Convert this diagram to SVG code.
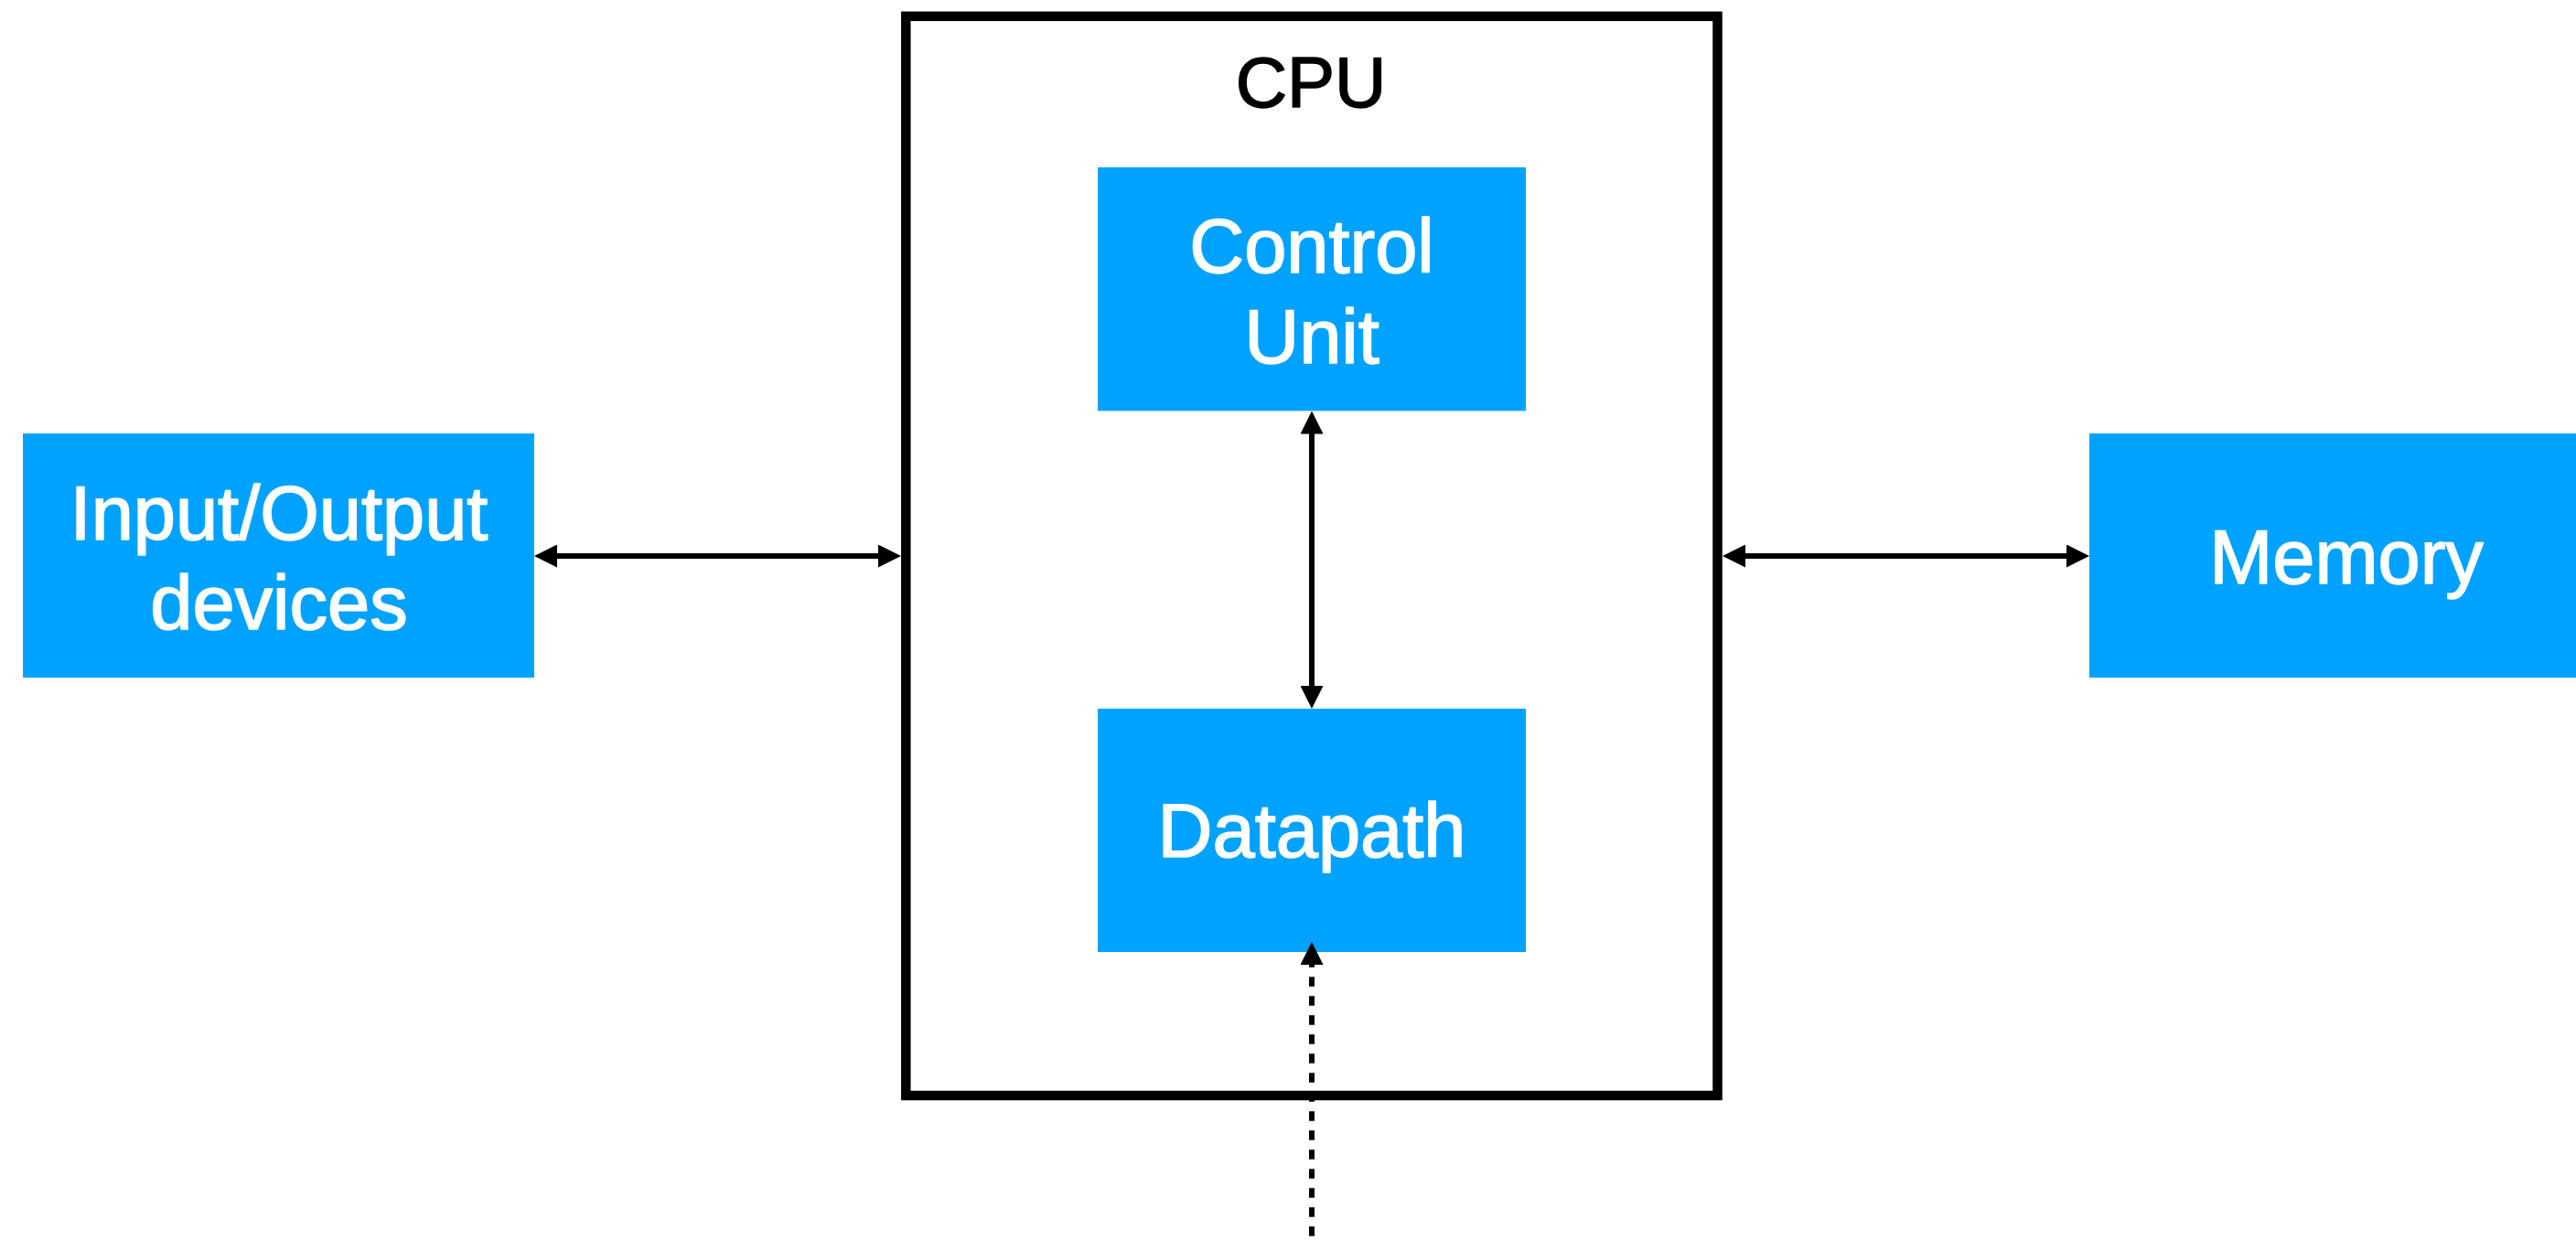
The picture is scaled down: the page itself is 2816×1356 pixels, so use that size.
<svg xmlns="http://www.w3.org/2000/svg" width="2816" height="1356" viewBox="0 0 2816 1356">
  <style>
    .box { fill: #00A2FF; }
    .label { font-family: "Liberation Sans", Arial, Helvetica, sans-serif; font-size: 83px; fill: #FFFFFF; stroke: #FFFFFF; stroke-width: 1.6; stroke-linejoin: round; text-anchor: middle; }
    .title { font-family: "Liberation Sans", Arial, Helvetica, sans-serif; font-size: 78px; fill: #000000; stroke: #000000; stroke-width: 1.6; stroke-linejoin: round; text-anchor: middle; }
    .conn { stroke: #000000; stroke-width: 6; fill: none; }
    .dashed { stroke-dasharray: 10.5 10.5; stroke-dashoffset: 2.7; }
  </style>
  <defs>
    <marker id="arrowEnd" markerUnits="userSpaceOnUse" markerWidth="25" markerHeight="25" viewBox="0 0 25 25" refX="5" refY="12.5" orient="auto">
      <path d="M0,0 L25,12.5 L0,25 Z" fill="#000000"/>
    </marker>
    <marker id="arrowStart" markerUnits="userSpaceOnUse" markerWidth="25" markerHeight="25" viewBox="0 0 25 25" refX="20" refY="12.5" orient="auto">
      <path d="M25,0 L0,12.5 L25,25 Z" fill="#000000"/>
    </marker>
  </defs>
  <rect width="2816" height="1356" fill="#FFFFFF"/>

  <g id="cpu">
    <rect x="990.3" y="17.8" width="887.2" height="1180.2" fill="none" stroke="#000000" stroke-width="10.5"/>
    <text class="title" x="1433" y="116.7">CPU</text>
  </g>

  <g id="control-unit">
    <rect class="box" x="1200" y="183" width="468" height="266.3"/>
    <text class="label" x="1434" y="298.3">Control</text>
    <text class="label" x="1434" y="396.7">Unit</text>
  </g>

  <g id="datapath">
    <rect class="box" x="1200" y="775" width="468" height="266"/>
    <text class="label" x="1434" y="937">Datapath</text>
  </g>

  <g id="io-devices">
    <rect class="box" x="25" y="474" width="559" height="267"/>
    <text class="label" x="305" y="590">Input/Output</text>
    <text class="label" x="305" y="688.3">devices</text>
  </g>

  <g id="memory">
    <rect class="box" x="2284" y="474" width="559" height="267"/>
    <text class="label" x="2565" y="637.7">Memory</text>
  </g>

  <g id="connectors">
    <path class="conn" d="M604,608 L965,608" marker-start="url(#arrowStart)" marker-end="url(#arrowEnd)"/>
    <path class="conn" d="M1903,608 L2264,608" marker-start="url(#arrowStart)" marker-end="url(#arrowEnd)"/>
    <path class="conn" d="M1434,469.5 L1434,755" marker-start="url(#arrowStart)" marker-end="url(#arrowEnd)"/>
    <path class="conn dashed" d="M1434,1050 L1434,1356" marker-start="url(#arrowStart)"/>
  </g>
</svg>
